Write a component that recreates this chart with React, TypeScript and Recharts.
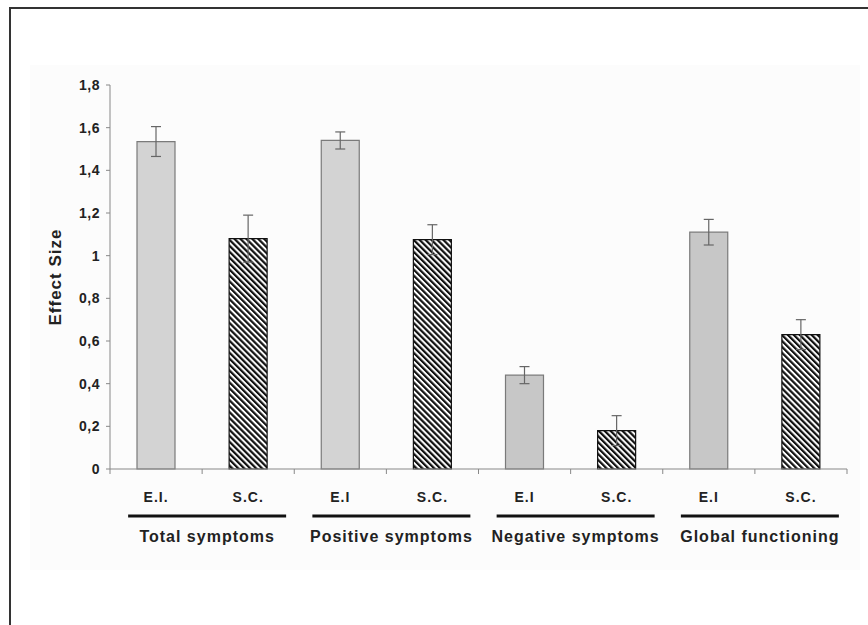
import React from "react";
import { BarChart, Bar, XAxis, YAxis, ErrorBar, Cell } from "recharts";

const categories = ["E.I.", "S.C.", "E.I", "S.C.", "E.I", "S.C.", "E.I", "S.C."];
const groups = ["Total symptoms", "Positive symptoms", "Negative symptoms", "Global functioning"];
const effectSizes = [1.535, 1.08, 1.54, 1.075, 0.44, 0.18, 1.11, 0.63];
const errors = [0.07, 0.11, 0.04, 0.07, 0.04, 0.07, 0.06, 0.07];
const yTicks = [0, 0.2, 0.4, 0.6, 0.8, 1, 1.2, 1.4, 1.6, 1.8];

const data = categories.map((c, i) => ({
  key: `${c}-${i}`,
  label: c,
  group: groups[Math.floor(i / 2)],
  value: effectSizes[i],
  err: errors[i],
}));

const W = 868;
const H = 625;
const MARGIN = { top: 85, right: 21, bottom: 126, left: 50 };
const Y_AXIS_W = 60;
const PLOT_W = W - MARGIN.left - MARGIN.right - Y_AXIS_W;
const BAND = PLOT_W / categories.length;
const FONT = "'Liberation Sans', Arial, Helvetica, sans-serif";

const eiFills = ["#d3d3d3", "#d3d3d3", "#c7c7c7", "#c7c7c7"];

const XTick = (props: any) => {
  const { x, y, payload, index } = props;
  const d = data[index];
  const isLast = index === categories.length - 1;
  return (
    <g>
      <line x1={x - BAND / 2} x2={x - BAND / 2} y1={y} y2={y + 5} stroke="#888" strokeWidth={1} />
      {isLast && (
        <line x1={x + BAND / 2} x2={x + BAND / 2} y1={y} y2={y + 5} stroke="#888" strokeWidth={1} />
      )}
      <text
        x={x}
        y={y + 33}
        textAnchor="middle"
        fontFamily={FONT}
        fontWeight="bold"
        fontSize={14}
        letterSpacing={1}
        fill="#222"
      >
        {d ? d.label : payload.value}
      </text>
      {index % 2 === 1 && d && (
        <g>
          <line
            x1={x - BAND / 2 + 5 - 79}
            x2={x - BAND / 2 + 5 + 79}
            y1={y + 47}
            y2={y + 47}
            stroke="#111"
            strokeWidth={3}
          />
          <text
            x={x - BAND / 2 + 5}
            y={y + 73}
            textAnchor="middle"
            fontFamily={FONT}
            fontWeight="bold"
            fontSize={16}
            letterSpacing={1}
            fill="#222"
          >
            {d.group}
          </text>
        </g>
      )}
    </g>
  );
};

export default function App() {
  return (
    <div style={{ position: "absolute", left: 0, top: 0, width: W, height: H, background: "#fff", overflow: "hidden" }}>
      <div
        style={{
          position: "absolute",
          left: 9,
          top: 7,
          width: W,
          height: H,
          borderLeft: "2px solid #333",
          borderTop: "2px solid #333",
        }}
      />
      <div style={{ position: "absolute", left: 30, top: 65, width: 830, height: 505, background: "#fcfcfc" }} />
      <div style={{ position: "absolute", left: 0, top: 0 }}>
        <BarChart width={W} height={H} data={data} margin={MARGIN} barSize={38}>
          <defs>
            <pattern id="hatch" width={4.2} height={4.2} patternUnits="userSpaceOnUse" patternTransform="rotate(-45)">
              <rect x={0} y={0} width={4.2} height={4.2} fill="#fff" />
              <rect x={0} y={0} width={2.2} height={4.2} fill="#111" />
            </pattern>
          </defs>
          <XAxis
            dataKey="key"
            tick={<XTick />}
            tickLine={false}
            tickSize={0}
            tickMargin={0}
            stroke="#888"
            interval={0}
            height={30}
          />
          <YAxis
            domain={[0, 1.8]}
            ticks={yTicks}
            width={Y_AXIS_W}
            stroke="#888"
            tickSize={4}
            tickMargin={6}
            tickFormatter={(v: number) => String(Math.round(v * 10) / 10).replace(".", ",")}
            tick={{ fontFamily: FONT, fontWeight: "bold", fontSize: 14, fill: "#222", letterSpacing: 0.5 }}
            label={{
              value: "Effect Size",
              angle: -90,
              position: "insideLeft",
              style: { fontFamily: FONT, fontWeight: "bold", fontSize: 17, fill: "#222", letterSpacing: 1, textAnchor: "middle" },
            }}
          />
          <Bar dataKey="value" isAnimationActive={false}>
            {data.map((d, i) => (
              <Cell
                key={d.key}
                fill={i % 2 === 0 ? eiFills[Math.floor(i / 2)] : "url(#hatch)"}
                stroke={i % 2 === 0 ? "#7a7a7a" : "#111"}
                strokeWidth={1.2}
              />
            ))}
            <ErrorBar dataKey="err" width={5} stroke="#666" strokeWidth={1.2} direction="y" isAnimationActive={false} />
          </Bar>
        </BarChart>
      </div>
    </div>
  );
}
